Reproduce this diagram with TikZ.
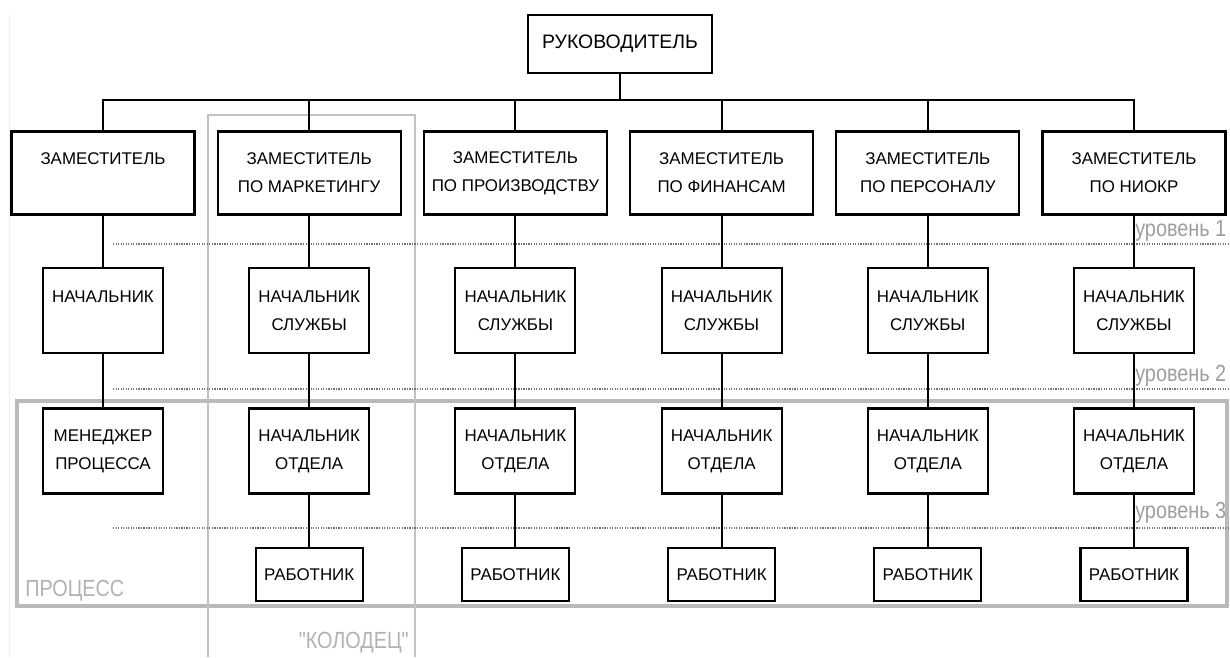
\documentclass[tikz,border=0pt]{standalone}
\usepackage{fontspec}
\setmainfont{Liberation Sans}
\newfontfamily\narrowFont[FakeStretch=0.85]{Liberation Sans}
\def\colSep{154.65pt}
\tikzset{
  box/.style={
    draw,
    fill=white,
    line width=1.6pt,
    inner sep=0pt,
    align=center,
    font={\fontsize{12.7}{21}\selectfont}
  },
  bossNode/.style={box,minimum width=138pt,minimum height=43.5pt,
    font={\fontsize{14.6}{18}\selectfont}},
  deputyNode/.style={box,minimum width=137.25pt,minimum height=62.25pt},
  chiefNode/.style={box,minimum width=90pt,minimum height=63.75pt},
  workerNode/.style={box,minimum width=80.25pt,minimum height=39.75pt},
  link/.style={line width=1.6pt},
  levelLine/.style={draw=black!55,densely dotted,line width=0.9pt},
  levelLabel/.style={text=black!38,inner sep=0pt,
    font={\narrowFont\fontsize{17.5}{20}\selectfont}},
  processFrame/.style={draw=black!27,line width=2.4pt},
  wellFrame/.style={draw=black!24,line width=1.3pt}
}

\begin{document}
\begin{tikzpicture}[x=0.75pt,y=-0.75pt]
    \useasboundingbox (0,0) rectangle (1230,657);
    \draw[black!6] (9,14) -- (9,657);

    % groups
    \draw[processFrame] (17,401) rectangle (1227,606);
    \draw[wellFrame] (208,657) |- (415,115) -- (415,657);
    \node[levelLabel,anchor=base west,text=black!30] (process) at (25,596) {ПРОЦЕСС};
    \node[levelLabel,anchor=base east,text=black!30] (well) at (409,648) {"КОЛОДЕЦ"};

    % levels
    \draw[levelLine] (113,244) -- (1230,244);
    \draw[levelLine] (113,389) -- (1230,389);
    \draw[levelLine] (113,528) -- (1230,528);
    \node[levelLabel,anchor=base west] (levelA) at (1135,236) {уровень 1};
    \node[levelLabel,anchor=base west] (levelB) at (1135,381) {уровень 2};
    \node[levelLabel,anchor=base west] (levelC) at (1135,518) {уровень 3};

    \node[bossNode] (boss) at (620,44) {РУКОВОДИТЕЛЬ};
    \coordinate (bus) at (620,100);

    \begin{scope}
      \node[deputyNode] (depA) at (103,173) {ЗАМЕСТИТЕЛЬ\\~};
      \node[chiefNode] (chiefA) at (103,310.5) {НАЧАЛЬНИК\\~};
      \node[chiefNode] (deptA) at (103,451) {МЕНЕДЖЕР\\ПРОЦЕССА};
      \draw[link] (depA) -- (chiefA);
      \draw[link] (chiefA) -- (deptA);
    \end{scope}

    \begin{scope}[xshift=\colSep]
      \node[deputyNode] (depB) at (103,173) {ЗАМЕСТИТЕЛЬ\\ПО МАРКЕТИНГУ};
      \node[chiefNode] (chiefB) at (103,310.5) {НАЧАЛЬНИК\\СЛУЖБЫ};
      \node[chiefNode] (deptB) at (103,451) {НАЧАЛЬНИК\\ОТДЕЛА};
      \node[workerNode] (workerB) at (103,574.5) {РАБОТНИК};
      \draw[link] (depB) -- (chiefB);
      \draw[link] (chiefB) -- (deptB);
      \draw[link] (deptB) -- (workerB);
    \end{scope}

    \begin{scope}[xshift=2*\colSep]
      \node[deputyNode] (depC) at (103,173) {ЗАМЕСТИТЕЛЬ\\ПО ПРОИЗВОДСТВУ};
      \node[chiefNode] (chiefC) at (103,310.5) {НАЧАЛЬНИК\\СЛУЖБЫ};
      \node[chiefNode] (deptC) at (103,451) {НАЧАЛЬНИК\\ОТДЕЛА};
      \node[workerNode] (workerC) at (103,574.5) {РАБОТНИК};
      \draw[link] (depC) -- (chiefC);
      \draw[link] (chiefC) -- (deptC);
      \draw[link] (deptC) -- (workerC);
    \end{scope}

    \begin{scope}[xshift=3*\colSep]
      \node[deputyNode] (depD) at (103,173) {ЗАМЕСТИТЕЛЬ\\ПО ФИНАНСАМ};
      \node[chiefNode] (chiefD) at (103,310.5) {НАЧАЛЬНИК\\СЛУЖБЫ};
      \node[chiefNode] (deptD) at (103,451) {НАЧАЛЬНИК\\ОТДЕЛА};
      \node[workerNode] (workerD) at (103,574.5) {РАБОТНИК};
      \draw[link] (depD) -- (chiefD);
      \draw[link] (chiefD) -- (deptD);
      \draw[link] (deptD) -- (workerD);
    \end{scope}

    \begin{scope}[xshift=4*\colSep]
      \node[deputyNode] (depE) at (103,173) {ЗАМЕСТИТЕЛЬ\\ПО ПЕРСОНАЛУ};
      \node[chiefNode] (chiefE) at (103,310.5) {НАЧАЛЬНИК\\СЛУЖБЫ};
      \node[chiefNode] (deptE) at (103,451) {НАЧАЛЬНИК\\ОТДЕЛА};
      \node[workerNode] (workerE) at (103,574.5) {РАБОТНИК};
      \draw[link] (depE) -- (chiefE);
      \draw[link] (chiefE) -- (deptE);
      \draw[link] (deptE) -- (workerE);
    \end{scope}

    \begin{scope}[xshift=5*\colSep]
      \node[deputyNode] (depF) at (103,173) {ЗАМЕСТИТЕЛЬ\\ПО НИОКР};
      \node[chiefNode] (chiefF) at (103,310.5) {НАЧАЛЬНИК\\СЛУЖБЫ};
      \node[chiefNode] (deptF) at (103,451) {НАЧАЛЬНИК\\ОТДЕЛА};
      \node[workerNode] (workerF) at (103,574.5) {РАБОТНИК};
      \draw[link] (depF) -- (chiefF);
      \draw[link] (chiefF) -- (deptF);
      \draw[link] (deptF) -- (workerF);
    \end{scope}

    % bus
    \draw[link] (boss) -- (boss |- bus);
    \draw[link] (depA) -- (depA |- bus) -- (depF |- bus) -- (depF);
    \draw[link] (depB) -- (depB |- bus);
    \draw[link] (depC) -- (depC |- bus);
    \draw[link] (depD) -- (depD |- bus);
    \draw[link] (depE) -- (depE |- bus);
  \end{tikzpicture}
\end{document}
